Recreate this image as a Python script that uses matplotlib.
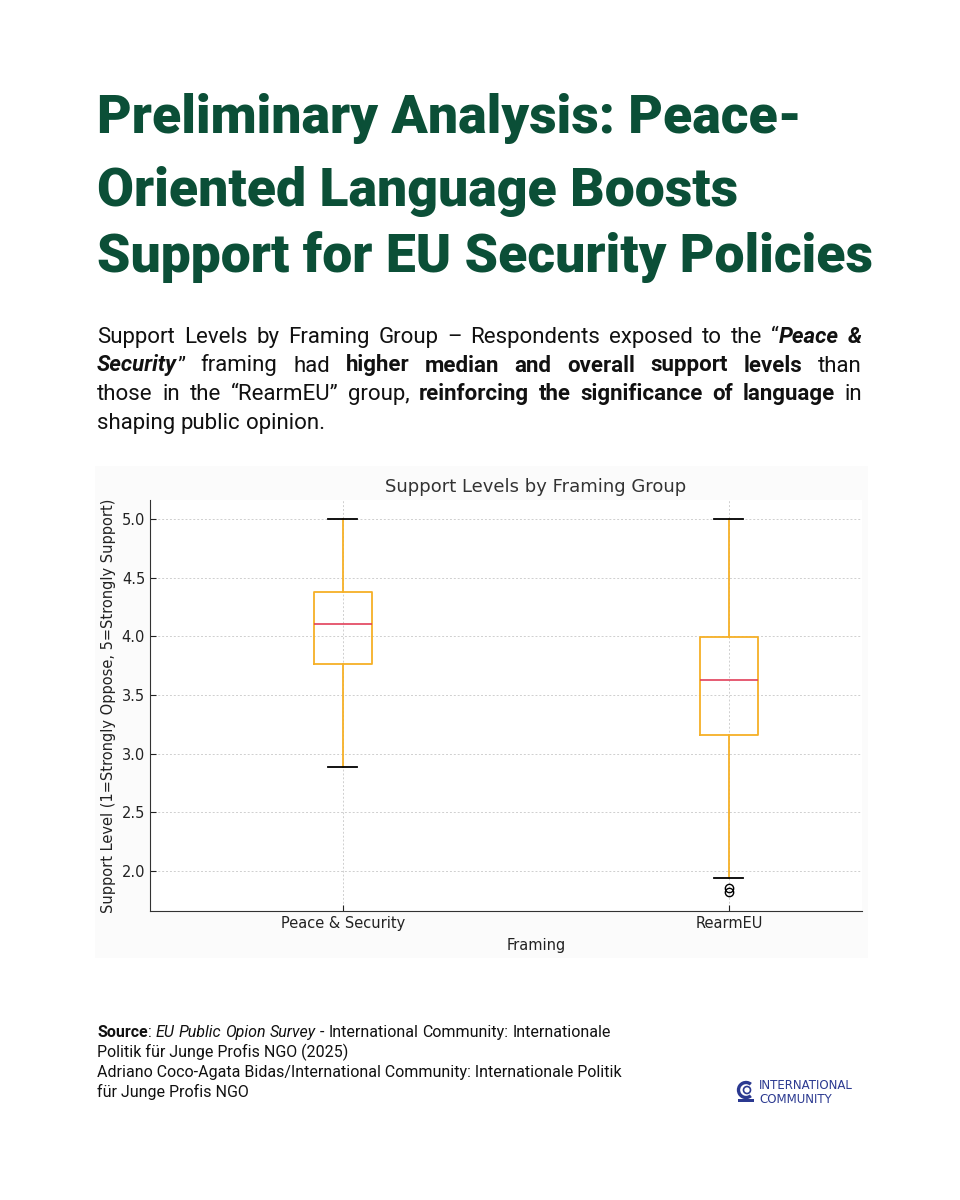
import matplotlib
matplotlib.use("Agg")
import matplotlib.pyplot as plt
from matplotlib.patches import Rectangle, Arc

# ---- data ----
groups = ["Peace & Security", "RearmEU"]
whisker_low = [2.89, 1.94]
q1 = [3.765, 3.16]
median = [4.105, 3.63]
q3 = [4.38, 3.995]
whisker_high = [5.0, 5.0]
outliers = [[], [1.825, 1.855]]
yticks = [2.0, 2.5, 3.0, 3.5, 4.0, 4.5, 5.0]

GREEN = "#0b4f37"; INK = "#111111"; BOXC = "#f6b026"; MEDC = "#e2405a"
LOGO = "#2b3990"
W, H = 960, 1200

plt.rcParams["font.family"] = "DejaVu Sans"
fams = {f.name for f in matplotlib.font_manager.fontManager.ttflist}
BODY = "Liberation Sans Narrow" if "Liberation Sans Narrow" in fams else "Roboto"
HEAD = "Roboto"
CHART = "DejaVu Sans"

fig = plt.figure(figsize=(9.6, 12), dpi=100)
fig.patch.set_facecolor("white")
renderer = fig.canvas.get_renderer()


def fx(x): return x / W
def fy(y): return 1 - y / H


STY = {"n": ("normal", "normal"), "b": ("bold", "normal"),
       "bi": ("bold", "italic"), "i": ("normal", "italic"), "k": ("black", "normal")}


def measure(s, size, st, fam):
    w, sty = STY[st]
    t = fig.text(0, 0, s, fontsize=size, fontweight=w, fontstyle=sty, family=fam)
    wd = t.get_window_extent(renderer).width
    t.remove()
    return wd


def rich_line(x0, x1, y, segs, size, fam, color=INK, justify=True):
    words, cur = [], []
    for txt, st in segs:
        parts = txt.split(" ")
        for i, p in enumerate(parts):
            if i > 0 and cur:
                words.append(cur); cur = []
            if p:
                cur.append((p, st))
    if cur:
        words.append(cur)
    widths = [[measure(p, size, st, fam) for p, st in wd] for wd in words]
    total = sum(sum(w) for w in widths)
    space = measure("a a", size, "n", fam) - measure("aa", size, "n", fam)
    gap = (x1 - x0 - total) / (len(words) - 1) if (justify and len(words) > 1) else space
    x = x0
    for wd, ws in zip(words, widths):
        for (p, st), w in zip(wd, ws):
            wt, sty = STY[st]
            fig.text(fx(x), fy(y), p, fontsize=size, fontweight=wt, fontstyle=sty,
                     family=fam, color=color, va="baseline", ha="left")
            x += w
        x += gap


# title
title_lines = ["Preliminary Analysis: Peace-", "Oriented Language Boosts",
               "Support for EU Security Policies"]
tsize = 38
wmax = max(measure(s, tsize, "k", HEAD) for s in title_lines)
tsize = tsize * 776 / wmax
for s, yb in zip(title_lines, [133, 206, 272]):
    fig.text(fx(97), fy(yb), s, fontsize=tsize, fontweight="black", family=HEAD,
             color=GREEN, va="baseline", ha="left")

# subtitle paragraph (justified)
body = [
    [("Support Levels by Framing Group \u2013 Respondents exposed to the \u201c", "n"), ("Peace &", "bi")],
    [("Security", "bi"), ("\u201d framing had ", "n"), ("higher median and overall support levels", "b"), (" than", "n")],
    [("those in the \u201cRearmEU\u201d group, ", "n"), ("reinforcing the significance of language", "b"), (" in", "n")],
    [("shaping public opinion.", "n")],
]
for i, segs in enumerate(body):
    rich_line(97, 862, 343 + i * 28.5, segs, 16, BODY, justify=(i < 3))

# faint panel behind chart
fig.patches.append(Rectangle((fx(95), fy(958)), fx(868) - fx(95), fy(466) - fy(958),
                             transform=fig.transFigure, fc="#fbfbfb", ec="none", zorder=-5))

# chart
ax = fig.add_axes([fx(150), fy(911), fx(862) - fx(150), fy(500) - fy(911)])
ax.set_facecolor("white")
stats = [dict(label=g, whislo=lo, q1=a, med=m, q3=b, whishi=hi, fliers=fl)
         for g, lo, a, m, b, hi, fl in zip(groups, whisker_low, q1, median, q3, whisker_high, outliers)]
ax.bxp(stats, positions=[1, 2], widths=0.15, patch_artist=False,
       boxprops=dict(color=BOXC, lw=1.3), whiskerprops=dict(color=BOXC, lw=1.3),
       capprops=dict(color="black", lw=1.3), medianprops=dict(color=MEDC, lw=1.2),
       flierprops=dict(marker="o", mfc="none", mec="black", ms=6, mew=1.0))
ax.set_xlim(0.5, 2.345)
ax.set_ylim(1.66, 5.16)
ax.set_yticks(yticks)
ax.set_yticklabels([f"{v:.1f}" for v in yticks])
ax.grid(True, ls=(0, (2, 2)), color="#cfcfcf", lw=0.7)
ax.set_axisbelow(True)
for s in ("top", "right"):
    ax.spines[s].set_visible(False)
for s in ("left", "bottom"):
    ax.spines[s].set_color("#333333")
ax.tick_params(direction="in", labelsize=10.5, colors="#222222", length=4)
for lab in ax.get_xticklabels() + ax.get_yticklabels():
    lab.set_family(CHART)
ax.set_title("Support Levels by Framing Group", fontsize=13, color="#333333",
             x=(536 - 150) / 712, pad=6, family=CHART)
ax.set_xlabel("Framing", fontsize=10.5, color="#222222", labelpad=4, family=CHART)
ax.xaxis.set_label_coords((536 - 150) / 712, -0.065)
ax.set_ylabel("Support Level (1=Strongly Oppose, 5=Strongly Support)", fontsize=10.5,
              color="#222222", family=CHART)

# source
rich_line(97, 700, 1037, [("Source", "b"), (": ", "n"), ("EU Public Opion Survey", "i"),
                          (" - International Community: Internationale", "n")], 11.5, BODY, justify=False)
for i, s in enumerate(["Politik für Junge Profis NGO (2025)",
                       "Adriano Coco-Agata Bidas/International Community: Internationale Politik",
                       "für Junge Profis NGO"]):
    fig.text(fx(97), fy(1057 + i * 20), s, fontsize=11.5, family=BODY, color=INK, va="baseline")

# logo
lax = fig.add_axes([fx(736), fy(1104), fx(756) - fx(736), fy(1080) - fy(1104)])
lax.set_xlim(0, 20); lax.set_ylim(0, 24); lax.set_aspect("equal"); lax.axis("off")
lax.add_patch(Arc((10, 14), 15, 15, theta1=50, theta2=310, color=LOGO, lw=2.4))
lax.add_patch(Arc((11, 14), 7, 7, theta1=0, theta2=360, color=LOGO, lw=1.2))
lax.add_patch(Rectangle((2, 2), 16, 2.6, fc=LOGO, ec="none"))
fig.text(fx(759), fy(1089), "INTERNATIONAL", fontsize=8.5, color=LOGO, family="DejaVu Sans", va="baseline")
fig.text(fx(759), fy(1103), "COMMUNITY", fontsize=8.5, color=LOGO, family="DejaVu Sans", va="baseline")

fig.savefig("out.png", dpi=100)
